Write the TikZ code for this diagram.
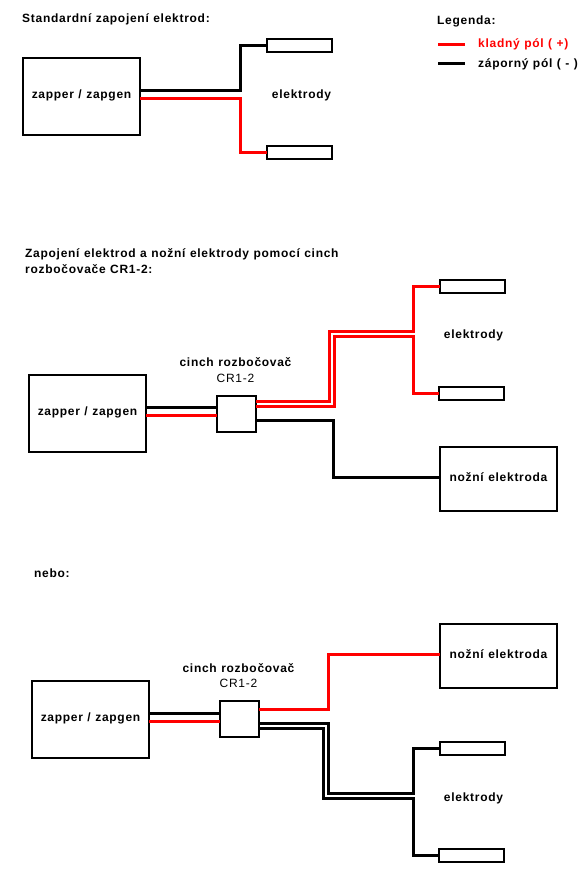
\documentclass[tikz,border=0pt]{standalone}
\usepackage{fontspec}
\setmainfont{Liberation Sans}
\newfontfamily\lblfont[LetterSpace=6,WordSpace=1.1]{Liberation Sans}
\usetikzlibrary{positioning}

\begin{document}
\begin{tikzpicture}[
    x=1pt, y=-1pt,
    box/.style={draw, line width=2pt, outer sep=0pt, minimum height=77pt, minimum width=117pt,
                text height=9pt, text depth=5pt,
                font=\lblfont\bfseries\fontsize{12}{15}\selectfont, align=center},
    footbox/.style={box, minimum height=64pt},
    splitbox/.style={draw, line width=2pt, outer sep=0pt, minimum height=36pt, minimum width=39pt},
    elbox/.style={draw, line width=2pt, outer sep=0pt, minimum height=13pt, minimum width=65pt},
    txt/.style={inner sep=0pt, font=\lblfont\bfseries\fontsize{12}{15.5}\selectfont, align=center},
    plus/.style={line width=3pt, red, line join=miter},
    minus/.style={line width=3pt, black, line join=miter},
]
\useasboundingbox (0,0) rectangle (587,886);

% Standard wiring
\node[box] (zapperA) at (81.5,96.5) {zapper / zapgen};
\node[elbox, above right=6pt and 127pt of zapperA] (elecAa) {};
\node[elbox, below right=10.5pt and 127pt of zapperA] (elecAb) {};
\node[txt, anchor=west] (titleA) at (22,19) {Standardní zapojení elektrod:};
\node[txt] (elecAtxt) at (301.5,95) {elektrody};

% Legend
\node[txt, anchor=west] (legend) at (437,21) {Legenda:};
\node[txt, anchor=west, text=red] (legPlus) at (478,44.5) {kladný pól ( +)};
\node[txt, anchor=west] (legMinus) at (478,64) {záporný pól ( - )};
\coordinate (legPlusA) at (438,44);
\coordinate (legPlusB) at (465,44);
\coordinate (legMinusA) at (438,63);
\coordinate (legMinusB) at (465,63);
\draw[plus] (legPlusA) -- (legPlusB);
\draw[minus] (legMinusA) -- (legMinusB);

\coordinate (jointAa) at (240.6,90.3);
\coordinate (jointAb) at (240.6,98.3);
\draw[minus] (zapperA.east |- jointAa) -- (jointAa) |- (elecAa.west);
\draw[plus] (zapperA.east |- jointAb) -- (jointAb) |- (elecAb.west);

% Wiring with foot electrode, plus side doubled
\node[txt, anchor=north west, align=left] (titleB) at (25,248.5) {Zapojení elektrod a nožní elektrody pomocí cinch\\rozbočovače CR1-2:};
\node[box] (zapperB) at (87.5,413.5) {zapper / zapgen};
\node[splitbox, right=71pt of zapperB] (splitB) {};
\node[footbox, right=184pt of splitB, yshift=-65.5pt] (footB) {nožní elektroda};
\node[elbox, above=154.5pt of footB.north west, anchor=south west] (elecBa) {};
\node[elbox, above=47.5pt of footB.north west, anchor=south west, xshift=-1pt] (elecBb) {};
\node[txt, above=25.5pt of splitB.north, xshift=-1pt, anchor=center] (splitBtxt) {cinch rozbočovač\\\mdseries CR1-2};
\node[txt] (elecBtxt) at (473.5,335.5) {elektrody};

\coordinate (inBa) at (217,407.3);
\coordinate (inBb) at (217,415.3);
\draw[minus] (zapperB.east |- inBa) -- (splitB.west |- inBa);
\draw[plus] (zapperB.east |- inBb) -- (splitB.west |- inBb);

\coordinate (bendBa) at (329,401.3);
\coordinate (bendBb) at (334.3,406.3);
\coordinate (bendBc) at (333.3,420.7);
\coordinate (bendBd) at (333.3,477.3);
\coordinate (jointBa) at (413.7,331.7);
\coordinate (jointBb) at (413.7,336.7);
\draw[plus] (splitB.east |- bendBa) -- (bendBa) |- (jointBa) |- (elecBa.west);
\draw[plus] (splitB.east |- bendBb) -- (bendBb) |- (jointBb) |- (elecBb.west);
\draw[minus] (splitB.east |- bendBc) -- (bendBc) -- (bendBd) -- (footB.west |- bendBd);

% Alternative, minus side doubled
\node[txt, anchor=west] (titleC) at (34,573) {nebo:};
\node[box] (zapperC) at (90.5,719.2) {zapper / zapgen};
\node[splitbox, right=71pt of zapperC] (splitC) {};
\node[footbox, right=181pt of splitC, yshift=63.2pt] (footC) {nožní elektroda};
\node[elbox, below=53.5pt of footC.south west, anchor=north west] (elecCa) {};
\node[elbox, below=160.5pt of footC.south west, anchor=north west, xshift=-1pt] (elecCb) {};
\node[txt, above=25.5pt of splitC.north, xshift=-1pt, anchor=center] (splitCtxt) {cinch rozbočovač\\\mdseries CR1-2};
\node[txt] (elecCtxt) at (473.5,798) {elektrody};

\coordinate (inCa) at (220,713.3);
\coordinate (inCb) at (220,721.3);
\draw[minus] (zapperC.east |- inCa) -- (splitC.west |- inCa);
\draw[plus] (zapperC.east |- inCb) -- (splitC.west |- inCb);

\coordinate (bendCa) at (328.7,709.3);
\coordinate (bendCd) at (328.7,654.3);
\coordinate (bendCb) at (328.3,723.3);
\coordinate (bendCc) at (323.7,728.3);
\coordinate (jointCa) at (413.7,793.3);
\coordinate (jointCb) at (413.7,798.3);
\draw[plus] (splitC.east |- bendCa) -- (bendCa) -- (bendCd) -- (footC.west |- bendCd);
\draw[minus] (splitC.east |- bendCb) -- (bendCb) |- (jointCa) |- (elecCa.west);
\draw[minus] (splitC.east |- bendCc) -- (bendCc) |- (jointCb) |- (elecCb.west);

\end{tikzpicture}
\end{document}
